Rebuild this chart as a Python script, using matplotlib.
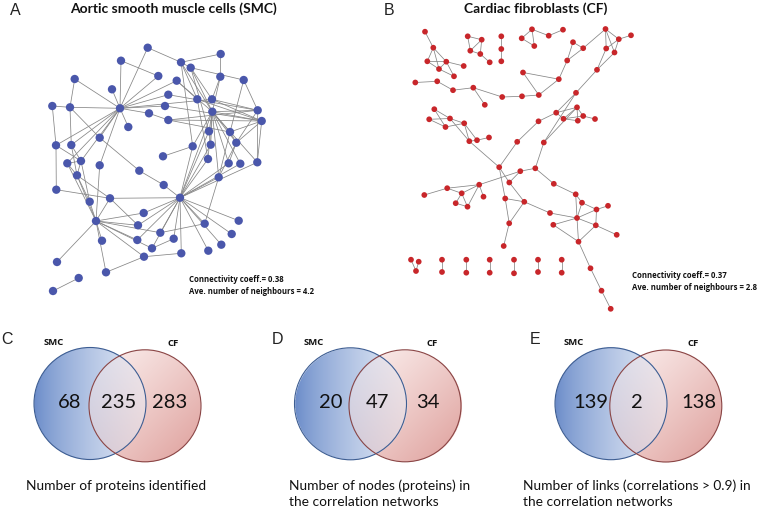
import numpy as np
import matplotlib
matplotlib.use("Agg")
import matplotlib.pyplot as plt
from matplotlib.patches import Circle
from matplotlib.colors import to_rgb

plt.rcParams['font.family'] = ['Lato', 'DejaVu Sans']

# ---------------- data ----------------
smc_title = "Aortic smooth muscle cells (SMC)"
cf_title = "Cardiac fibroblasts (CF)"
smc_stats = ["Connectivity coeff.= 0.38", "Ave. number of neighbours = 4.2"]
cf_stats = ["Connectivity coeff.= 0.37", "Ave. number of neighbours = 2.8"]

smc_x = [147.7, 220.7, 121, 181, 190.7, 158.3, 220.3, 243.7, 74.7, 176.7, 112, 168.3, 197.3, 212,
         52.3, 70, 120, 165, 149, 212.3, 257.7, 261.7, 168.3, 128.3, 209, 230, 99.7, 56, 71.3,
         192.7, 210.7, 236.3, 163, 208, 67.3, 81, 99.7, 228.7, 240.3, 257.3, 139.3, 77, 218.7,
         163.7, 56.3, 180, 110, 89.7, 143.7, 96, 238.7, 138, 204.7, 160.3, 231.7, 102, 137.3,
         173.7, 152, 221.3, 208.3, 181.3, 144, 57, 106, 78.7, 53]
smc_y = [47.7, 54, 60.7, 62.3, 67.7, 76, 76.7, 80, 79, 80.7, 89.3, 94.7, 99.3, 99.3,
         106, 107.3, 108.3, 106, 113.3, 111.7, 110.3, 121, 120, 127, 131.3, 132, 137.7, 145.3, 145,
         146.3, 144.7, 142.7, 156.3, 159, 163.3, 161, 165.3, 163.3, 163.7, 162.3, 170.7, 175.3, 177.3,
         185, 189.7, 197.7, 198.3, 201.7, 213, 221, 220.7, 225.3, 223.7, 232.7, 234, 240.7, 240,
         238.7, 248.3, 244.7, 250.7, 253.3, 256.7, 262, 272.3, 278, 291]
smc_edges = [
    (0, 3), (0, 16), (2, 16), (2, 5), (3, 1), (3, 4), (3, 12), (3, 19), (3, 29), (4, 7), (4, 19),
    (4, 13), (4, 24), (1, 6), (6, 19), (6, 13), (7, 20), (7, 25),
    (5, 16), (9, 16), (9, 19), (9, 12), (10, 16), (11, 16), (11, 20), (17, 16), (17, 21), (18, 16),
    (18, 22), (22, 20), (22, 21), (22, 25), (13, 16), (13, 20), (13, 21), (12, 33), (12, 21),
    (19, 20), (19, 21), (19, 24), (19, 25), (19, 29), (19, 30), (19, 31), (19, 37), (19, 38),
    (19, 33), (19, 42), (19, 45), (19, 39),
    (20, 31), (21, 31), (21, 25), (20, 39), (21, 39), (31, 37), (25, 31), (24, 30), (42, 31), (42, 25),
    (23, 16), (14, 15), (15, 16), (8, 15), (8, 16),
    (15, 28), (15, 26), (14, 27), (27, 44), (27, 35), (28, 35), (28, 41), (34, 35), (34, 41), (35, 41),
    (26, 40), (26, 16), (28, 16), (34, 16), (35, 16), (36, 16), (27, 16),
    (41, 47), (41, 46), (35, 47), (44, 46), (36, 49), (47, 49), (46, 49), (46, 45), (46, 51),
    (40, 43), (43, 45), (32, 29),
    (49, 48), (49, 51), (49, 53), (49, 56), (49, 58), (49, 55), (49, 63), (49, 64), (49, 41),
    (49, 34), (49, 62), (64, 62), (65, 66),
    (48, 45), (51, 45), (53, 45), (56, 45), (57, 45), (58, 45), (61, 45), (60, 45), (52, 45),
    (50, 45), (54, 45), (59, 45), (42, 45), (33, 45), (37, 45), (30, 45), (29, 45), (38, 45),
    (39, 45), (24, 45), (52, 42), (52, 53), (61, 62), (58, 57)]

cf_x = [425, 433.3, 427.3, 446.3, 439, 454, 463.7, 467.7, 481.7, 470.3, 480.3, 489.7, 501.3, 501.3,
        501.3, 532, 521.7, 534.3, 548.7, 563, 605.5, 618.8, 631, 606.2, 614.5, 573, 583.2, 567.2,
        597, 558.8, 523, 538.8, 522, 502.2, 473.3, 484.8, 453, 437.2, 415.3, 576, 434.3, 429.2,
        450, 445.5, 464.2, 469.3, 477, 489, 499.2, 517.2, 538.5, 556.2, 563.5, 577, 577.8, 583.2,
        595, 543.8, 535.3, 520.3, 509.3, 479.2, 447.2, 424.3, 461.7, 455.7, 467.5, 483.5, 505.2,
        524.3, 509.2, 503.7, 553.8, 575.7, 582, 596.5, 608, 550, 577, 553.3, 595.8, 616.7, 578.5,
        590.5, 601.5, 610.7, 411, 418.7, 416, 442, 442, 466.3, 466.3, 489.7, 489.7, 514, 514,
        538, 538, 561.7, 561.7]
cf_y = [31.7, 47.7, 61.3, 61.7, 69, 76.3, 66, 36.3, 39.7, 50.7, 54, 62.3, 36.3, 49,
        61.3, 29.3, 38.3, 46, 35.7, 29.7, 29, 39.2, 35.3, 48.5, 52.5, 42.2, 48.2, 60.5,
        69.8, 79.2, 72.5, 95, 96.3, 97, 87.7, 104.8, 90.2, 81.3, 82.5, 92.8, 109.2, 119.3,
        118.5, 127, 123.3, 141.2, 140.2, 137.5, 167.2, 141.8, 121.3, 112.7, 118.8, 107.3, 120.7, 116,
        119, 142.5, 168.3, 171.2, 182.5, 184.7, 188.2, 195, 193.3, 203.2, 206.7, 196.7, 198.5,
        201.8, 223.3, 246, 183.8, 194.3, 202.7, 209.5, 205.8, 213, 218, 224.8, 225.3, 234.8, 241.7,
        268.3, 290.7, 308.8, 259.7, 261.7, 271, 259.7, 272, 259.7, 272.7, 259.7, 272.7, 259.7, 273.3,
        259.7, 272, 259.7, 272.7]
cf_edges = [
    (0, 1), (1, 2), (1, 3), (1, 4), (2, 3), (2, 4), (3, 4), (3, 5), (3, 6), (4, 5),
    (7, 8), (7, 9), (8, 9), (8, 10), (9, 10), (10, 11),
    (12, 13), (13, 14),
    (15, 16), (16, 17), (15, 17), (15, 18), (18, 19),
    (20, 21), (21, 22), (20, 23), (20, 24), (21, 23), (21, 24), (23, 28), (24, 28), (20, 26),
    (25, 26), (25, 27), (26, 27), (27, 29), (29, 30), (29, 31), (30, 31), (31, 32), (32, 33),
    (33, 34), (34, 36), (34, 35), (36, 37), (37, 38), (28, 39),
    (39, 51), (39, 57),
    (40, 42), (40, 43), (41, 42), (41, 43), (42, 44), (43, 44), (42, 45), (44, 45), (44, 46),
    (45, 46), (46, 47), (45, 48),
    (48, 49), (49, 50), (50, 51), (51, 52), (51, 53), (52, 53), (52, 54), (53, 54), (53, 55),
    (55, 56), (52, 55), (57, 53), (57, 58), (48, 60), (58, 59), (59, 60), (59, 61), (60, 69),
    (48, 68), (61, 62), (61, 64), (61, 66), (62, 63), (62, 64), (64, 65), (64, 66), (65, 66),
    (61, 67), (58, 72), (72, 73), (69, 77), (68, 69), (68, 70), (69, 70), (70, 71),
    (73, 74), (73, 78), (74, 75), (74, 78), (75, 76), (75, 78), (75, 80), (77, 78), (78, 79),
    (78, 80), (78, 82), (79, 82), (80, 82), (80, 81), (82, 83), (83, 84), (84, 85),
    (86, 88), (87, 88), (89, 90), (91, 92), (93, 94), (95, 96), (97, 98), (99, 100)]

venn_letters = ["C", "D", "E"]
venn_set_names = ["SMC", "CF"]
venn_only_smc = [68, 20, 139]
venn_shared = [235, 47, 2]
venn_only_cf = [283, 34, 138]
venn_captions = ["Number of proteins identified",
                 "Number of nodes (proteins) in\nthe correlation networks",
                 "Number of links (correlations > 0.9) in\nthe correlation networks"]

# ---------------- figure ----------------
W, H = 761, 509
fig = plt.figure(figsize=(W / 100, H / 100), dpi=100)
ax = fig.add_axes([0, 0, 1, 1])
ax.set_xlim(0, W)
ax.set_ylim(H, 0)
ax.axis('off')

edge_col = '#858585'


def draw_network(xs, ys, edges, color, size):
    for a, b in edges:
        ax.plot([xs[a], xs[b]], [ys[a], ys[b]], color=edge_col, lw=0.55, zorder=1)
    ax.scatter(xs, ys, s=size, color=color, edgecolors='none', zorder=2)


draw_network(smc_x, smc_y, smc_edges, '#4a57ab', 36)
draw_network(cf_x, cf_y, cf_edges, '#c8262a', 17)

# titles and panel letters
letter_font = dict(family=['Liberation Sans', 'DejaVu Sans'], fontsize=11.5, color='#222222')
bold_small = dict(family=['Open Sans', 'DejaVu Sans'], fontweight='bold', color='#111111')
ax.text(10, 10, "A", ha='left', va='center', **letter_font)
ax.text(384, 10, "B", ha='left', va='center', **letter_font)
ax.text(173, 9, smc_title, ha='center', va='center', fontsize=10, fontweight='bold', color='#111111')
ax.text(536, 9, cf_title, ha='center', va='center', fontsize=10, fontweight='bold', color='#111111')
for i, s in enumerate(smc_stats):
    ax.text(189, 280 + 11.3 * i, s, ha='left', va='center', fontsize=5.6, **bold_small)
for i, s in enumerate(cf_stats):
    ax.text(632.5, 276 + 11.3 * i, s, ha='left', va='center', fontsize=5.6, **bold_small)

# ---------------- Venn diagrams ----------------
venn_geom = [  # (cx_left, cy_left, cx_right, cy_right, r)
    (90.0, 403.5, 145.0, 405.8, 56.0),
    (350.5, 403.8, 405.0, 405.8, 56.0),
    (611.0, 403.7, 665.8, 406.0, 56.0),
]
venn_text_x = [  # (letter, SMC, CF, n1, n2, n3, caption-left)
    (1, 53.3, 173.3, 70.0, 118.3, 169.3, 26.0),
    (272, 313.3, 432.3, 331.0, 377.3, 428.3, 289.3),
    (530, 574.0, 692.7, 590.7, 637.3, 699.0, 523.3),
]

L0 = np.array(to_rgb('#6789c8'))
L1 = np.array(to_rgb('#e8eef8'))
R0 = np.array(to_rgb('#fcf2f1'))
R1 = np.array(to_rgb('#de9e9a'))

for k in range(3):
    cxl, cyl, cxr, cyr, r = venn_geom[k]
    x0, x1 = cxl - r - 2, cxr + r + 2
    y0, y1 = min(cyl, cyr) - r - 2, max(cyl, cyr) + r + 2
    res = 3
    nx = int((x1 - x0) * res)
    ny = int((y1 - y0) * res)
    gx = x0 + (np.arange(nx) + 0.5) / res
    gy = y0 + (np.arange(ny) + 0.5) / res
    X, Y = np.meshgrid(gx, gy)
    inL = (X - cxl) ** 2 + (Y - cyl) ** 2 <= r ** 2
    inR = (X - cxr) ** 2 + (Y - cyr) ** 2 <= r ** 2
    tl = np.clip((X - (cxl - r)) / (2 * r), 0, 1) ** 0.75
    colL = L0[None, None, :] * (1 - tl[..., None]) + L1[None, None, :] * tl[..., None]
    tr = np.clip(((X - (cxr - r)) + (Y - (cyr - r))) / (4 * r), 0, 1) ** 1.1
    colR = R0[None, None, :] * (1 - tr[..., None]) + R1[None, None, :] * tr[..., None]
    img = np.ones((ny, nx, 4))
    img[..., 3] = 0
    onlyL = inL & ~inR
    onlyR = inR & ~inL
    both = inL & inR
    img[onlyL, :3] = colL[onlyL]
    img[onlyR, :3] = colR[onlyR]
    mix = 0.5 * colL + 0.5 * colR
    img[both, :3] = mix[both]
    img[inL | inR, 3] = 1
    ax.imshow(img, extent=(x0, x1, y1, y0), interpolation='bilinear', zorder=1, aspect='auto')
    ax.add_patch(Circle((cxl, cyl), r, fill=False, ec='#3d5d92', lw=0.8, zorder=3))
    ax.add_patch(Circle((cxr, cyr), r, fill=False, ec='#8a4545', lw=0.8, zorder=3))

    lx, sx, cx, n1, n2, n3, capx = venn_text_x[k]
    ax.text(lx, 339, venn_letters[k], ha='left', va='center', **letter_font)
    ax.text(sx, 342.5, venn_set_names[0], ha='center', va='center', fontsize=6.8, **bold_small)
    ax.text(cx, 343.5, venn_set_names[1], ha='center', va='center', fontsize=6.8, **bold_small)
    for xx, v in zip((n1, n2, n3), (venn_only_smc[k], venn_shared[k], venn_only_cf[k])):
        ax.text(xx, 402, str(v), ha='center', va='center', fontsize=14.5, color='#111111', zorder=4)
    ax.text(capx, 479.5, venn_captions[k], ha='left', va='top', fontsize=9.9, color='#111111',
            linespacing=1.35)

ax.set_xlim(0, W)
ax.set_ylim(H, 0)
fig.savefig('out.png', dpi=100)
